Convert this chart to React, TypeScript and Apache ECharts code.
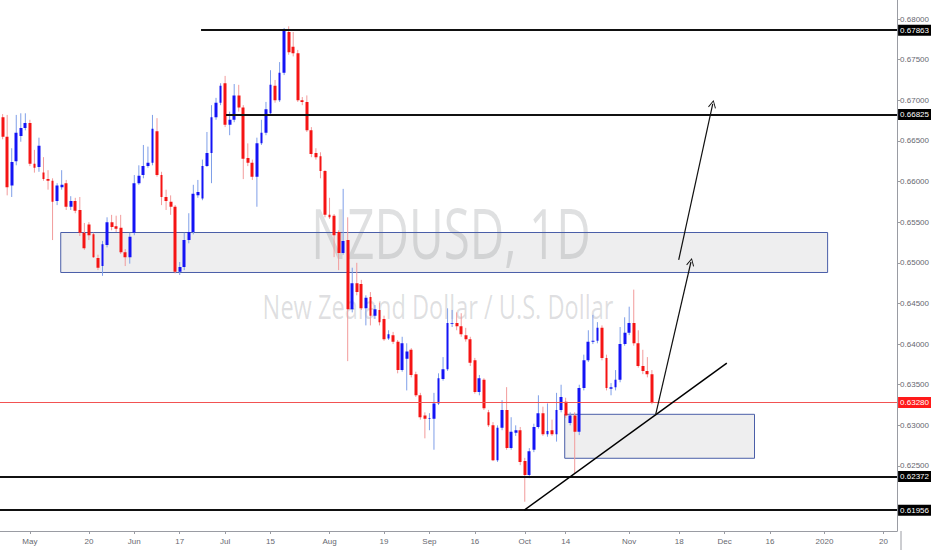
import React, { useEffect, useRef } from "react";
import * as echarts from "echarts";

// Trading-day index of the first candle, counted from 1 May 2019 (= 0)
const FIRST_DAY = -6;

const opens = [
  0.6679, 0.6655, 0.6595, 0.6625, 0.6656, 0.6666, 0.6672, 0.6622, 0.6618, 0.6611,
  0.6603, 0.6601, 0.6576, 0.6593, 0.6598, 0.6569, 0.6576, 0.6565, 0.6537, 0.6547,
  0.6535, 0.6506, 0.6496, 0.6522, 0.6550, 0.6545, 0.6543, 0.6513, 0.6507, 0.6537,
  0.6598, 0.6608, 0.6619, 0.6623, 0.6662, 0.6608, 0.6581, 0.6575, 0.6569, 0.6489,
  0.6495, 0.6528, 0.6538, 0.6583, 0.6579, 0.6619, 0.6635, 0.6679, 0.6697, 0.6721,
  0.6670, 0.6676, 0.6706, 0.6691, 0.6629, 0.6623, 0.6606, 0.6647, 0.6660, 0.6684,
  0.6718, 0.6700, 0.6734, 0.6784, 0.6766, 0.6758, 0.6700, 0.6698, 0.6663, 0.6635,
  0.6631, 0.6613, 0.6559, 0.6558, 0.6538, 0.6512, 0.6528, 0.6443, 0.6475, 0.6474,
  0.6444, 0.6458, 0.6435, 0.6442, 0.6431, 0.6407, 0.6411, 0.6403, 0.6368, 0.6382,
  0.6393, 0.6363, 0.6337, 0.6312, 0.6308, 0.6308, 0.6327, 0.6357, 0.6369, 0.6425,
  0.6426, 0.6422, 0.6411, 0.6406, 0.6380, 0.6341, 0.6356, 0.6316, 0.6300, 0.6257,
  0.6297, 0.6319, 0.6272, 0.6291, 0.6294, 0.6256, 0.6239, 0.6270, 0.6298, 0.6315,
  0.6289, 0.6294, 0.6289, 0.6319, 0.6329, 0.6303, 0.6312, 0.6292, 0.6346, 0.6380,
  0.6403, 0.6404, 0.6420, 0.6383, 0.6345, 0.6347, 0.6356, 0.6400, 0.6414, 0.6426,
  0.6401, 0.6373, 0.6367, 0.6363,
];

const closes = [
  0.6655, 0.6593, 0.6624, 0.6660, 0.6666, 0.6672, 0.6622, 0.6617, 0.6644, 0.6603,
  0.6601, 0.6575, 0.6595, 0.6596, 0.6569, 0.6576, 0.6564, 0.6537, 0.6518, 0.6534,
  0.6507, 0.6494, 0.6523, 0.6550, 0.6544, 0.6542, 0.6513, 0.6507, 0.6532, 0.6598,
  0.6607, 0.6619, 0.6623, 0.6665, 0.6608, 0.6581, 0.6576, 0.6569, 0.6489, 0.6495,
  0.6528, 0.6538, 0.6585, 0.6587, 0.6619, 0.6635, 0.6679, 0.6697, 0.6718, 0.6670,
  0.6676, 0.6706, 0.6691, 0.6628, 0.6623, 0.6606, 0.6647, 0.6660, 0.6689, 0.6719,
  0.6700, 0.6734, 0.6786, 0.6759, 0.6758, 0.6700, 0.6698, 0.6663, 0.6634, 0.6630,
  0.6613, 0.6559, 0.6556, 0.6534, 0.6512, 0.6527, 0.6443, 0.6475, 0.6464, 0.6444,
  0.6457, 0.6435, 0.6443, 0.6427, 0.6406, 0.6412, 0.6403, 0.6368, 0.6401, 0.6391,
  0.6362, 0.6337, 0.6310, 0.6308, 0.6309, 0.6327, 0.6358, 0.6369, 0.6426, 0.6426,
  0.6422, 0.6412, 0.6406, 0.6377, 0.6341, 0.6358, 0.6321, 0.6300, 0.6257, 0.6297,
  0.6319, 0.6272, 0.6292, 0.6294, 0.6255, 0.6239, 0.6268, 0.6298, 0.6315, 0.6289,
  0.6293, 0.6289, 0.6319, 0.6335, 0.6312, 0.6312, 0.6292, 0.6346, 0.6380, 0.6403,
  0.6404, 0.6420, 0.6383, 0.6346, 0.6347, 0.6356, 0.6400, 0.6414, 0.6426, 0.6401,
  0.6373, 0.6367, 0.6363, 0.6328,
];

const lows = [
  0.6652, 0.6583, 0.6581, 0.6620, 0.6649, 0.6663, 0.6619, 0.6611, 0.6612, 0.6601,
  0.6590, 0.6528, 0.6571, 0.6590, 0.6565, 0.6565, 0.6561, 0.6533, 0.6516, 0.6528,
  0.6506, 0.6491, 0.6484, 0.6519, 0.6540, 0.6538, 0.6511, 0.6496, 0.6499, 0.6534,
  0.6596, 0.6604, 0.6617, 0.6620, 0.6606, 0.6571, 0.6565, 0.6559, 0.6487, 0.6485,
  0.6491, 0.6524, 0.6535, 0.6580, 0.6577, 0.6618, 0.6598, 0.6676, 0.6694, 0.6667,
  0.6657, 0.6673, 0.6686, 0.6603, 0.6619, 0.6602, 0.6569, 0.6645, 0.6657, 0.6682,
  0.6697, 0.6698, 0.6731, 0.6756, 0.6754, 0.6698, 0.6694, 0.6661, 0.6630, 0.6627,
  0.6604, 0.6556, 0.6554, 0.6507, 0.6491, 0.6510, 0.6379, 0.6439, 0.6460, 0.6442,
  0.6423, 0.6423, 0.6431, 0.6423, 0.6404, 0.6405, 0.6400, 0.6364, 0.6366, 0.6343,
  0.6359, 0.6335, 0.6307, 0.6284, 0.6294, 0.6270, 0.6325, 0.6355, 0.6367, 0.6421,
  0.6417, 0.6409, 0.6403, 0.6373, 0.6339, 0.6337, 0.6319, 0.6298, 0.6256, 0.6255,
  0.6294, 0.6270, 0.6270, 0.6287, 0.6251, 0.6206, 0.6235, 0.6267, 0.6296, 0.6287,
  0.6286, 0.6287, 0.6280, 0.6316, 0.6309, 0.6300, 0.6241, 0.6288, 0.6343, 0.6378,
  0.6400, 0.6401, 0.6380, 0.6343, 0.6337, 0.6343, 0.6353, 0.6398, 0.6411, 0.6398,
  0.6371, 0.6363, 0.6359, 0.6326,
];

const highs = [
  0.6683, 0.6682, 0.6641, 0.6682, 0.6684, 0.6684, 0.6676, 0.6639, 0.6654, 0.6630,
  0.6614, 0.6604, 0.6598, 0.6614, 0.6602, 0.6582, 0.6580, 0.6581, 0.6549, 0.6550,
  0.6537, 0.6510, 0.6527, 0.6556, 0.6559, 0.6558, 0.6559, 0.6517, 0.6537, 0.6608,
  0.6620, 0.6645, 0.6643, 0.6682, 0.6678, 0.6612, 0.6590, 0.6583, 0.6571, 0.6501,
  0.6537, 0.6561, 0.6596, 0.6602, 0.6627, 0.6661, 0.6694, 0.6703, 0.6721, 0.6730,
  0.6686, 0.6720, 0.6719, 0.6694, 0.6647, 0.6627, 0.6654, 0.6676, 0.6698, 0.6737,
  0.6725, 0.6747, 0.6789, 0.6791, 0.6784, 0.6762, 0.6704, 0.6706, 0.6667, 0.6641,
  0.6636, 0.6614, 0.6580, 0.6560, 0.6540, 0.6591, 0.6556, 0.6494, 0.6500, 0.6479,
  0.6460, 0.6464, 0.6448, 0.6451, 0.6435, 0.6417, 0.6415, 0.6405, 0.6409, 0.6401,
  0.6395, 0.6366, 0.6340, 0.6316, 0.6315, 0.6340, 0.6364, 0.6384, 0.6444, 0.6442,
  0.6439, 0.6438, 0.6420, 0.6409, 0.6383, 0.6362, 0.6358, 0.6319, 0.6304, 0.6300,
  0.6331, 0.6347, 0.6310, 0.6300, 0.6298, 0.6260, 0.6272, 0.6302, 0.6337, 0.6323,
  0.6327, 0.6307, 0.6340, 0.6350, 0.6334, 0.6316, 0.6316, 0.6350, 0.6387, 0.6417,
  0.6436, 0.6427, 0.6423, 0.6387, 0.6352, 0.6368, 0.6421, 0.6433, 0.6446, 0.6467,
  0.6417, 0.6393, 0.6384, 0.6368,
];

// x-axis tick labels (trading-day index from 1 May 2019)
const xTickDays = [0, 13, 23, 33, 43, 53, 66, 78, 88, 98, 109, 118, 132, 143, 153, 163, 175, 188];
const xTickLabels = ["May", "20", "Jun", "17", "Jul", "15", "Aug", "19", "Sep", "16", "Oct", "14", "Nov", "18", "Dec", "16", "2020", "20"];
const yTicks = [0.625, 0.63, 0.635, 0.64, 0.645, 0.65, 0.655, 0.66, 0.665, 0.67, 0.675, 0.68];

const X_MIN = -6.58;
const X_MAX = 191;
const Y_MIN = 0.617;
const Y_MAX = 0.68234;

// horizontal levels: [price, start day] (null start = full width)
const levelPrices = [0.67863, 0.66825, 0.62372, 0.61956];
const levelStarts = [37.7, 43.2, null, null];
const lastPrice = 0.6328;

// drawings (day index, price)
const zones = [
  [[6.8, 0.65373], [175.7, 0.64881]],
  [[117.8, 0.63136], [159.6, 0.62595]],
];
const trendLine = [[108.9, 0.61958], [153.5, 0.63767]];
const arrows = [
  [[137.8, 0.63127], [145.6, 0.6501]],
  [[142.9, 0.65035], [150.4, 0.66955]],
];

const UP = "#1414f5";
const DOWN = "#f51414";
const WICK_UP = "#7f9fe8";
const WICK_DOWN = "#f29b9b";
const AXIS = "#9a9ca3";
const LABEL = "#66686f";
const ARROW_HEAD = "path://M0,10 L5,0 L10,10 L8.9,10.7 L5,2.3 L1.1,10.7 Z";

export default function App() {
  const ref = useRef<HTMLDivElement>(null);

  useEffect(() => {
    if (!ref.current) return;
    const chart = echarts.init(ref.current, null, { renderer: "svg" });

    const candles = opens.map((o, k) => [FIRST_DAY + k, o, closes[k], lows[k], highs[k]]);

    const priceLabel = (v: number, bg: string) => ({
      show: true,
      position: "end",
      distance: 1,
      formatter: v.toFixed(5),
      color: "#ffffff",
      backgroundColor: bg,
      padding: [2, 2, 1, 2],
      fontSize: 8,
      fontFamily: "Liberation Sans",
    });

    const levelLines: any[] = levelPrices.map((v, k) => {
      const lineStyle = { color: "#111111", width: 2, type: "solid" };
      const label = priceLabel(v, "#000000");
      const start = levelStarts[k] == null ? X_MIN : levelStarts[k];
      return [
        { coord: [start, v], lineStyle, label },
        { coord: [X_MAX, v], lineStyle, label },
      ];
    });

    const lastStyle = { color: "#f25252", width: 1, type: "solid" };
    const lastLine = [
      { coord: [X_MIN, lastPrice], lineStyle: lastStyle, label: priceLabel(lastPrice, "#ff1a1a") },
      { coord: [X_MAX, lastPrice], lineStyle: lastStyle, label: priceLabel(lastPrice, "#ff1a1a") },
    ];

    const trend = [
      { coord: trendLine[0], lineStyle: { color: "#000", width: 1.5, type: "solid" }, label: { show: false } },
      { coord: trendLine[1] },
    ];

    const arrowLines = arrows.map((a) => [
      { coord: a[0], symbol: "none", lineStyle: { color: "#111", width: 1.2, type: "solid" }, label: { show: false } },
      { coord: a[1], symbol: ARROW_HEAD, symbolSize: [8, 8] },
    ]);

    chart.setOption({
      animation: false,
      grid: { left: 0, right: 31, top: 0, bottom: 19, containLabel: false },
      xAxis: {
        type: "value",
        min: X_MIN,
        max: X_MAX,
        axisLine: { show: true, onZero: false, lineStyle: { color: AXIS, width: 1 } },
        axisTick: { show: true, length: 3, customValues: xTickDays, lineStyle: { color: AXIS } },
        axisLabel: {
          customValues: xTickDays,
          formatter: (v: number) => {
            const k = xTickDays.indexOf(Math.round(v));
            return k >= 0 ? xTickLabels[k] : "";
          },
          fontSize: 8,
          color: LABEL,
          margin: 6,
          fontFamily: "Liberation Sans",
        },
        splitLine: { show: false },
      },
      yAxis: {
        type: "value",
        position: "right",
        min: Y_MIN,
        max: Y_MAX,
        scale: true,
        axisLine: { show: true, onZero: false, lineStyle: { color: AXIS, width: 1 } },
        axisTick: { show: true, length: 3, customValues: yTicks, lineStyle: { color: AXIS } },
        axisLabel: {
          customValues: yTicks,
          formatter: (v: number) => v.toFixed(5),
          fontSize: 8,
          color: LABEL,
          margin: 3,
          fontFamily: "Liberation Sans",
        },
        splitLine: { show: false },
      },
      graphic: {
        elements: [
          {
            type: "text",
            x: 451,
            y: 232,
            scaleX: 0.68,
            z: 0,
            silent: true,
            style: {
              text: "NZDUSD, 1D",
              fontSize: 70,
              fontFamily: "Open Sans",
              fill: "rgba(110,112,118,0.22)",
              align: "center",
              verticalAlign: "middle",
            },
          },
          {
            type: "text",
            x: 438,
            y: 306,
            scaleX: 0.715,
            z: 0,
            silent: true,
            style: {
              text: "New Zealand Dollar / U.S. Dollar",
              fontSize: 33,
              fontFamily: "Open Sans",
              fill: "rgba(110,112,118,0.22)",
              align: "center",
              verticalAlign: "middle",
            },
          },
          {
            type: "line",
            z: 0,
            silent: true,
            shape: { x1: 901, y1: 531, x2: 901, y2: 550 },
            style: { stroke: AXIS, lineWidth: 1 },
          },
        ],
      },
      series: [
        {
          type: "custom",
          name: "wicks",
          silent: true,
          z: 1,
          data: candles,
          encode: { x: 0, y: [3, 4] },
          renderItem: (params: any, api: any) => {
            const x = api.value(0);
            const o = api.value(1);
            const c = api.value(2);
            const top = api.coord([x, api.value(4)]);
            const bot = api.coord([x, api.value(3)]);
            return {
              type: "line",
              shape: { x1: top[0], y1: top[1], x2: bot[0], y2: bot[1] },
              style: { stroke: c >= o ? WICK_UP : WICK_DOWN, lineWidth: 1 },
            };
          },
        },
        {
          type: "candlestick",
          name: "NZDUSD",
          silent: true,
          z: 2,
          barWidth: 3.3,
          data: candles,
          encode: { x: 0, y: [1, 2, 3, 4] },
          itemStyle: {
            color: UP,
            color0: DOWN,
            borderColor: UP,
            borderColor0: DOWN,
            borderWidth: 0,
          },
          markArea: {
            silent: true,
            itemStyle: {
              color: "rgba(120,123,134,0.13)",
              borderColor: "#4a5ea8",
              borderWidth: 1,
            },
            label: { show: false },
            data: zones.map((z) => [{ coord: z[0] }, { coord: z[1] }]),
          },
          markLine: {
            silent: true,
            precision: 5,
            symbol: ["none", "none"],
            animation: false,
            label: { show: false },
            data: [...levelLines, lastLine, trend, ...arrowLines],
          },
        },
      ],
    });

    return () => chart.dispose();
  }, []);

  return (
    <div
      ref={ref}
      style={{ position: "fixed", left: 0, top: 0, width: 932, height: 550, background: "#ffffff" }}
    />
  );
}
